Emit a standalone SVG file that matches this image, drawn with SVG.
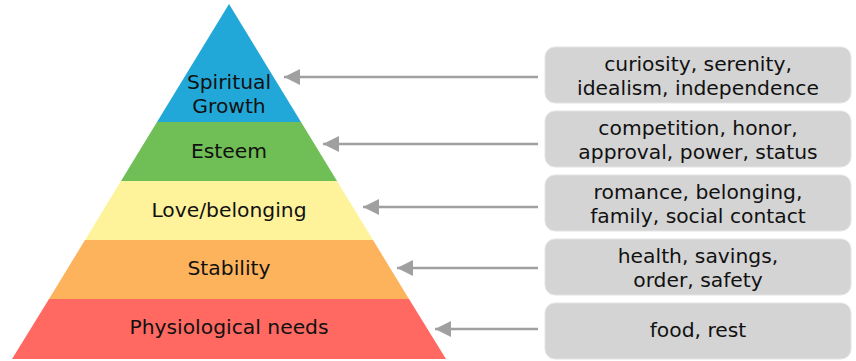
<svg xmlns="http://www.w3.org/2000/svg" width="856" height="361" viewBox="0 0 856 361">
<defs>
<style>
.lbl{font-family:"DejaVu Sans",Verdana,sans-serif;font-size:20.3px;fill:#111111;text-anchor:middle}
.box{fill:#d4d4d4;stroke:#e4e4e4;stroke-width:1}
.con{stroke:#a0a0a0;stroke-width:2.5;fill:none;marker-end:url(#ah)}
</style>
<marker id="ah" viewBox="0 0 16 16" refX="16" refY="8" markerWidth="16" markerHeight="16" markerUnits="userSpaceOnUse" orient="auto">
<path d="M0,0 L16,8 L0,16 z" fill="#a0a0a0"/>
</marker>
</defs>
<rect width="856" height="361" fill="#ffffff"/>
<g id="pyramid">
<g id="level-spiritual">
<polygon points="229,4 301,122 157,122" fill="#22a8d8"/>
<text class="lbl" x="229" y="89">Spiritual</text>
<text class="lbl" x="229" y="113">Growth</text>
</g>
<g id="level-esteem">
<polygon points="157,122 301,122 337,181 121,181" fill="#6fbe56"/>
<text class="lbl" x="229" y="158">Esteem</text>
</g>
<g id="level-love">
<polygon points="121,181 337,181 373,240 85,240" fill="#fef39b"/>
<text class="lbl" x="229" y="217">Love/belonging</text>
</g>
<g id="level-stability">
<polygon points="85,240 373,240 409,299 49,299" fill="#fdb35b"/>
<text class="lbl" x="229" y="275">Stability</text>
</g>
<g id="level-physiological">
<polygon points="49,299 409,299 446,359 12,359" fill="#ff6961"/>
<text class="lbl" x="229" y="334">Physiological needs</text>
</g>
</g>
<g id="box-1">
<rect class="box" x="545" y="47" width="306" height="56" rx="10"/>
<text class="lbl" x="698" y="71">curiosity, serenity,</text>
<text class="lbl" x="698" y="95">idealism, independence</text>
</g>
<g id="box-2">
<rect class="box" x="545" y="111" width="306" height="56" rx="10"/>
<text class="lbl" x="698" y="135">competition, honor,</text>
<text class="lbl" x="698" y="159">approval, power, status</text>
</g>
<g id="box-3">
<rect class="box" x="545" y="175" width="306" height="56" rx="10"/>
<text class="lbl" x="698" y="199">romance, belonging,</text>
<text class="lbl" x="698" y="223">family, social contact</text>
</g>
<g id="box-4">
<rect class="box" x="545" y="239" width="306" height="56" rx="10"/>
<text class="lbl" x="698" y="263">health, savings,</text>
<text class="lbl" x="698" y="287">order, safety</text>
</g>
<g id="box-5">
<rect class="box" x="545" y="303" width="306" height="56" rx="10"/>
<text class="lbl" x="698" y="337">food, rest</text>
</g>
<g id="connectors">
<line class="con" x1="538" y1="77" x2="284" y2="77"/>
<line class="con" x1="538" y1="144" x2="323" y2="144"/>
<line class="con" x1="538" y1="207" x2="363" y2="207"/>
<line class="con" x1="538" y1="268" x2="397" y2="268"/>
<line class="con" x1="538" y1="329" x2="435" y2="329"/>
</g>
</svg>
